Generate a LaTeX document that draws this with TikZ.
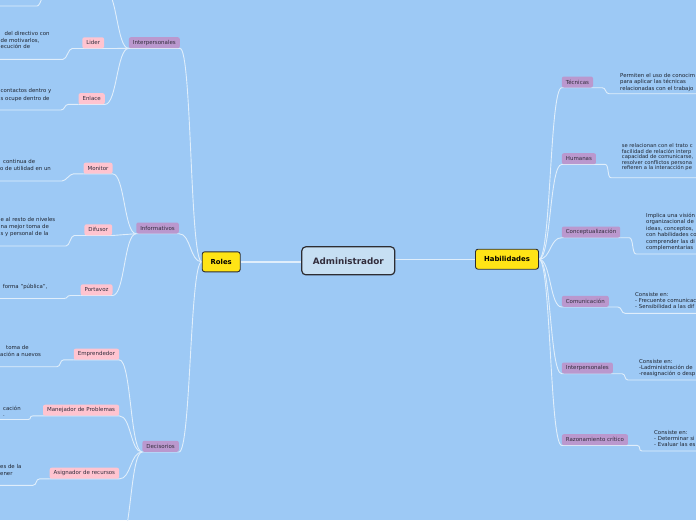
\documentclass[tikz,border=0pt]{standalone}
\usepackage{fontspec}
\setmainfont{DejaVu Sans}
\usepackage{tikz}
\usetikzlibrary{backgrounds}
\definecolor{bgblue}{RGB}{157,201,245}
\definecolor{rootfill}{RGB}{198,223,243}
\definecolor{darkline}{RGB}{45,45,50}
\definecolor{mainyellow}{RGB}{255,228,22}
\definecolor{catpurple}{RGB}{186,152,206}
\definecolor{rolepink}{RGB}{255,196,208}
\definecolor{linkwhite}{RGB}{224,238,251}
\definecolor{nodetext}{RGB}{50,45,60}
\definecolor{desctext}{RGB}{30,36,48}
\tikzstyle{rootbox} = [rectangle, rounded corners=4pt, draw=darkline, line width=1.2pt, fill=rootfill, minimum width=93pt, minimum height=28pt, text=nodetext, font=\fontsize{8.8}{10}\selectfont\bfseries]
\tikzstyle{mainbox} = [rectangle, rounded corners=2.5pt, draw=darkline, line width=0.9pt, fill=mainyellow, minimum height=20pt, text=black, font=\fontsize{6.9}{8}\selectfont\bfseries]
\tikzstyle{cat} = [rectangle, rounded corners=2pt, fill=catpurple, minimum height=11pt, inner xsep=4pt, inner ysep=0pt, text=nodetext, font=\fontsize{5.5}{6}\selectfont]
\tikzstyle{role} = [cat, fill=rolepink]
\tikzstyle{desc} = [inner sep=0pt, anchor=north west, align=left, text=desctext, font=\fontsize{5.4}{6.8}\selectfont]
\tikzstyle{link} = [draw=linkwhite, line width=0.9pt]
\tikzstyle{rootlink} = [link, line width=1.4pt]

\begin{document}
\begin{tikzpicture}[x=1pt, y=-1pt]
                \coordinate (nw) at (0,0);
                \coordinate (se) at (696,520);
                \useasboundingbox (nw) rectangle (se);
                \clip (nw) rectangle (se);

                \node[rootbox] (adm) at (348.3,260.8) {Administrador};
                \node[mainbox, minimum width=38pt] (roles) at (221.2,261.8) {Roles};
                \node[mainbox, minimum width=63pt] (hab) at (507,259.2) {Habilidades};

                \node[cat, anchor=east] (iper) at (180,42.7) {Interpersonales};
                \node[cat, anchor=east] (info) at (179,228) {Informativos};
                \node[cat, anchor=east] (deci) at (179,446.3) {Decisorios};

                \node[role, anchor=east] (lider) at (104.3,42.8) {Lider};
                \node[role, anchor=east] (enlace) at (105,98.7) {Enlace};
                \node[role, anchor=east] (monitor) at (112.7,168.2) {Monitor};
                \node[role, anchor=east] (difusor) at (112.3,229.8) {Difusor};
                \node[role, anchor=east] (portavoz) at (112.7,289.8) {Portavoz};
                \node[role, anchor=east] (empr) at (119.3,354.2) {Emprendedor};
                \node[role, anchor=east] (mane) at (119.3,410.2) {Manejador de Problemas};
                \node[role, anchor=east] (asig) at (119.3,473.2) {Asignador de recursos};
                \coordinate (ipt) at (105,-10);
                \coordinate (dct) at (119,545);

                \node[desc] (lidd) at (0.5,31) {\hspace*{4pt}del directivo con\\de motivarlos,\\ecución de};
                \node[desc, font=\fontsize{5.4}{8}\selectfont] (enld) at (0.5,88.3) {contactos dentro y\\s ocupe dentro de};
                \node[desc] (mond) at (0,159.6) {\hspace*{3pt}continua de\\o de utilidad en un};
                \node[desc] (difd) at (0.5,217.6) {e al resto de niveles\\na mejor toma de\\s y personal de la};
                \node[desc] (pord) at (2.7,284) {forma "pública",};
                \node[desc, font=\fontsize{5.4}{7.3}\selectfont] (empd) at (0,345) {\hspace*{6pt}toma de\\ación a nuevos};
                \node[desc, font=\fontsize{5.4}{6}\selectfont] (maned) at (3,405.6) {cación\\.};
                \node[desc, font=\fontsize{5.4}{7.3}\selectfont] (asigd) at (0,464) {es de la\\ener};
                \coordinate (iptu) at (37,6);
                \coordinate (lidu) at (63,59.3);
                \coordinate (enlu) at (61,110);
                \coordinate (monu) at (62,181);
                \coordinate (difu) at (66,246);
                \coordinate (poru) at (64,298.5);
                \coordinate (empu) at (57,366.7);
                \coordinate (maneu) at (28,419.5);
                \coordinate (asigu) at (33,485.3);

                \node[cat, anchor=west] (tec) at (561.7,82) {Técnicas};
                \node[cat, anchor=west] (hum) at (561.7,158.7) {Humanas};
                \node[cat, anchor=west] (conc) at (561.7,232) {Conceptualización};
                \node[cat, anchor=west] (comu) at (561.7,301.3) {Comunicación};
                \node[cat, anchor=west] (inter) at (561.7,368) {Interpersonales};
                \node[cat, anchor=west] (razo) at (561.7,439.7) {Razonamiento crítico};

                \node[desc, font=\fontsize{5.4}{6.7}\selectfont] (tecd) at (620,72.7) {Permiten el uso de conocim\\para aplicar las técnicas\\relacionadas con el trabajo};
                \node[desc, font=\fontsize{5.2}{5.5}\selectfont] (humd) at (621.7,143.4) {se relacionan con el trato c\\facilidad de relación interp\\capacidad de comunicarse,\\resolver conflictos persona\\refieren a la interacción pe};
                \node[desc, font=\fontsize{5.4}{6.45}\selectfont] (concd) at (646,213) {Implica una visión\\organizacional de\\ideas, conceptos,\\con habilidades co\\comprender las di\\complementarias};
                \node[desc, font=\fontsize{5.4}{6.3}\selectfont] (comud) at (635,292) {Consiste en:\\- Frecuente comunicac\\- Sensibilidad a las dif};
                \node[desc, font=\fontsize{5.4}{6}\selectfont] (interd) at (639,359.3) {Consiste en:\\-Ladministración de\\-reasignación o desp};
                \node[desc, font=\fontsize{5.4}{6.3}\selectfont] (razod) at (654,430) {Consiste en:\\- Determinar si\\- Evaluar las es};
                \coordinate (tecu) at (609,93.7);
                \coordinate (humu) at (611,177.7);
                \coordinate (concu) at (636,254);
                \coordinate (comuu) at (625,313.3);
                \coordinate (interu) at (628,380);
                \coordinate (razou) at (642,451);

                \begin{scope}[on background layer]
                \clip (nw) rectangle (se);
                \fill[bgblue] (nw) rectangle (se);

                \draw[rootlink] (roles.east) -- (adm.west |- roles.east);
                \draw[rootlink] (adm.east |- hab.west) -- (hab.west);

                \draw[link] (roles.west) .. controls +(-12,0) and +(12,0) .. (iper.south east) -- (iper.south west);
                \draw[link] (roles.west) .. controls +(-12,0) and +(12,0) .. (info.south east) -- (info.south west);
                \draw[link] (roles.west) .. controls +(-12,0) and +(12,0) .. (deci.south east) -- (deci.south west);

                \draw[link] (iper.south west) .. controls +(-12,0) and +(12,0) .. (ipt) -- ++(-58,0) .. controls +(-4,0) and +(4,0) .. (iptu) -- (iptu -| nw);
                \draw[link] (iper.south west) .. controls +(-12,0) and +(12,0) .. (lider.south east) -- (lider.south west);
                \draw[link] (iper.south west) .. controls +(-12,0) and +(12,0) .. (enlace.south east) -- (enlace.south west);
                \draw[link] (info.south west) .. controls +(-12,0) and +(12,0) .. (monitor.south east) -- (monitor.south west);
                \draw[link] (info.south west) .. controls +(-12,0) and +(12,0) .. (difusor.south east) -- (difusor.south west);
                \draw[link] (info.south west) .. controls +(-12,0) and +(12,0) .. (portavoz.south east) -- (portavoz.south west);
                \draw[link] (deci.south west) .. controls +(-12,0) and +(12,0) .. (empr.south east) -- (empr.south west);
                \draw[link] (deci.south west) .. controls +(-12,0) and +(12,0) .. (mane.south east) -- (mane.south west);
                \draw[link] (deci.south west) .. controls +(-12,0) and +(12,0) .. (asig.south east) -- (asig.south west);
                \draw[link] (deci.south west) .. controls +(-12,0) and +(12,0) .. (dct);

                \draw[link] (lider.south west) -- ++(-10,0) .. controls +(-4,0) and +(4,0) .. (lidu) -- (lidu -| nw);
                \draw[link] (enlace.south west) -- ++(-10,0) .. controls +(-4,0) and +(4,0) .. (enlu) -- (enlu -| nw);
                \draw[link] (monitor.south west) -- ++(-10,0) .. controls +(-4,0) and +(4,0) .. (monu) -- (monu -| nw);
                \draw[link] (difusor.south west) -- ++(-10,0) .. controls +(-4,0) and +(4,0) .. (difu) -- (difu -| nw);
                \draw[link] (portavoz.south west) -- ++(-10,0) .. controls +(-4,0) and +(4,0) .. (poru) -- (poru -| nw);
                \draw[link] (empr.south west) -- ++(-10,0) .. controls +(-4,0) and +(4,0) .. (empu) -- (empu -| nw);
                \draw[link] (mane.south west) -- ++(-10,0) .. controls +(-4,0) and +(4,0) .. (maneu) -- (maneu -| nw);
                \draw[link] (asig.south west) -- ++(-10,0) .. controls +(-4,0) and +(4,0) .. (asigu) -- (asigu -| nw);

                \draw[link] (hab.east) .. controls +(12,0) and +(-12,0) .. (tec.south west) -- (tec.south east);
                \draw[link] (hab.east) .. controls +(12,0) and +(-12,0) .. (hum.south west) -- (hum.south east);
                \draw[link] (hab.east) .. controls +(12,0) and +(-12,0) .. (conc.south west) -- (conc.south east);
                \draw[link] (hab.east) .. controls +(12,0) and +(-12,0) .. (comu.south west) -- (comu.south east);
                \draw[link] (hab.east) .. controls +(12,0) and +(-12,0) .. (inter.south west) -- (inter.south east);
                \draw[link] (hab.east) .. controls +(12,0) and +(-12,0) .. (razo.south west) -- (razo.south east);

                \draw[link] (tec.south east) -- ++(9,0) .. controls +(4,0) and +(-4,0) .. (tecu) -- (tecu -| se);
                \draw[link] (hum.south east) -- ++(9,0) .. controls +(4,0) and +(-4,0) .. (humu) -- (humu -| se);
                \draw[link] (conc.south east) -- ++(9,0) .. controls +(4,0) and +(-4,0) .. (concu) -- (concu -| se);
                \draw[link] (comu.south east) -- ++(9,0) .. controls +(4,0) and +(-4,0) .. (comuu) -- (comuu -| se);
                \draw[link] (inter.south east) -- ++(9,0) .. controls +(4,0) and +(-4,0) .. (interu) -- (interu -| se);
                \draw[link] (razo.south east) -- ++(9,0) .. controls +(4,0) and +(-4,0) .. (razou) -- (razou -| se);
                \end{scope}
            \end{tikzpicture}
\end{document}
